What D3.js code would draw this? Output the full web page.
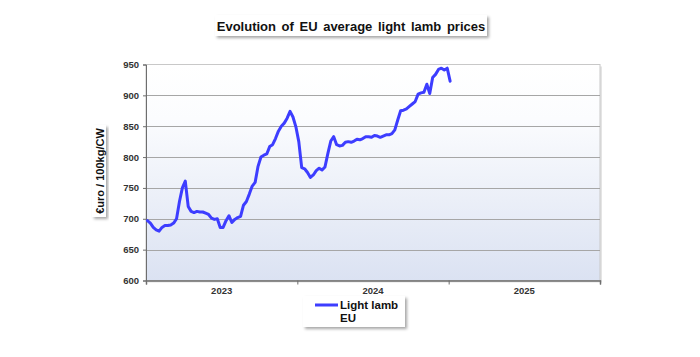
<!DOCTYPE html>
<html>
<head>
<meta charset="utf-8">
<script src="https://cdn.jsdelivr.net/npm/d3@7"></script>
<style>
  html, body { margin: 0; padding: 0; background: #ffffff; }
  svg { display: block; font-family: Arial, "Liberation Sans", sans-serif; }
</style>
</head>
<body>
<svg id="chart" width="700" height="357"></svg>
<script>
// ---- data ----
const chartTitle = "Evolution of EU average light lamb prices";
const yAxisTitle = "€uro / 100kg/CW";
const seriesName = ["Light lamb", "EU"];
const years = ["2023", "2024", "2025"];
const weeksPerYear = 52;
const yTicks = [600, 650, 700, 750, 800, 850, 900, 950];
// weekly prices starting week 1 of 2023
const lightLambEU = [
  697, 693, 686, 682, 680, 686, 689, 689, 690, 693,
  700, 728, 750, 761, 720, 712, 710, 712, 711, 711,
  709, 707, 701, 699, 700, 686, 686, 697, 705, 694,
  699, 702, 704, 722, 728, 740, 753, 759, 785, 800,
  803, 805, 817, 820, 830, 842, 850, 855, 863, 874,
  865, 849, 825, 783, 781, 775, 767, 771, 778, 782,
  779, 784, 806, 826, 833, 820, 818, 819, 824, 825,
  824, 826, 829, 828, 830, 833, 833, 832, 835, 834,
  832, 834, 836, 836, 838, 844, 860, 875, 876, 878,
  882, 886, 890, 902, 904, 905, 918, 903, 929, 934,
  942, 944, 941, 944, 923
];

// ---- layout ----
const svg = d3.select("#chart");
const m = { left: 146, right: 600, top: 64.5, bottom: 280.5 };

const x = d3.scaleLinear()
  .domain([0, years.length * weeksPerYear])
  .range([m.left, m.right]);
const y = d3.scaleLinear()
  .domain([600, 950])
  .range([m.bottom, m.top]);

const defs = svg.append("defs");
const grad = defs.append("linearGradient")
  .attr("id", "bg").attr("x1", 0).attr("y1", 0).attr("x2", 0).attr("y2", 1);
grad.append("stop").attr("offset", "0%").attr("stop-color", "#ffffff");
grad.append("stop").attr("offset", "25%").attr("stop-color", "#fbfcfe");
grad.append("stop").attr("offset", "100%").attr("stop-color", "#dbe2f2");

const shadow = defs.append("filter").attr("id", "shadow")
  .attr("x", "-10%").attr("y", "-30%").attr("width", "130%").attr("height", "180%");
shadow.append("feDropShadow").attr("dx", 2).attr("dy", 2)
  .attr("stdDeviation", 1.5).attr("flood-color", "#000").attr("flood-opacity", 0.35);

// plot frame shadow
svg.append("rect")
  .attr("x", m.left + 2).attr("y", m.top + 2)
  .attr("width", m.right - m.left).attr("height", m.bottom - m.top)
  .attr("fill", "#e4e4e4");
// plot background
svg.append("rect")
  .attr("x", m.left).attr("y", m.top)
  .attr("width", m.right - m.left).attr("height", m.bottom - m.top)
  .attr("fill", "url(#bg)")
  .attr("stroke", "#c8c8c8").attr("stroke-width", 1);

// gridlines
svg.append("g")
  .selectAll("line")
  .data(yTicks.filter(d => d > 600 && d < 950))
  .join("line")
  .attr("x1", m.left).attr("x2", m.right)
  .attr("y1", d => Math.round(y(d)) + 0.5).attr("y2", d => Math.round(y(d)) + 0.5)
  .attr("stroke", "#a6a6a6").attr("stroke-width", 1);

// y axis
const yAxis = d3.axisLeft(y).tickValues(yTicks).tickSize(3).tickPadding(4);
const gy = svg.append("g").attr("transform", `translate(${m.left},0)`).call(yAxis);
gy.select(".domain").attr("stroke", "#6e6e6e");
gy.selectAll(".tick line").attr("stroke", "#6e6e6e");
gy.selectAll("text").attr("font-size", 9.5).attr("font-weight", "bold")
  .attr("fill", "#333").attr("font-family", "Arial, 'Liberation Sans', sans-serif");

// x axis: tick marks at year boundaries, labels centered
const boundaries = d3.range(years.length + 1).map(i => i * weeksPerYear);
const gx = svg.append("g").attr("transform", `translate(0,${m.bottom})`)
  .call(d3.axisBottom(x).tickValues(boundaries).tickSize(4).tickFormat(""));
gx.select(".domain").attr("stroke", "#6e6e6e").attr("stroke-width", 1.5);
gx.selectAll(".tick line").attr("stroke", "#6e6e6e");
svg.append("g").selectAll("text")
  .data(years)
  .join("text")
  .attr("x", (d, i) => x((i + 0.5) * weeksPerYear))
  .attr("y", 294)
  .attr("text-anchor", "middle")
  .attr("font-size", 9.5).attr("font-weight", "bold").attr("fill", "#333")
  .text(d => d);

// line
const line = d3.line()
  .x((d, i) => x(i + 0.5))
  .y(d => y(d));
svg.append("path")
  .datum(lightLambEU)
  .attr("d", line)
  .attr("fill", "none")
  .attr("stroke", "#3d3dff")
  .attr("stroke-width", 3)
  .attr("stroke-linejoin", "round")
  .attr("stroke-linecap", "round");

// title box
svg.append("rect")
  .attr("x", 215).attr("y", 15).attr("width", 272).attr("height", 21)
  .attr("fill", "#fff").attr("filter", "url(#shadow)");
svg.append("text")
  .attr("x", 351).attr("y", 30.5)
  .attr("text-anchor", "middle")
  .attr("font-size", 13).attr("font-weight", "bold").attr("fill", "#111")
  .attr("word-spacing", 2)
  .text(chartTitle);

// y axis title box
svg.append("rect")
  .attr("x", 92).attr("y", 125).attr("width", 14).attr("height", 92)
  .attr("fill", "#fff").attr("filter", "url(#shadow)");
svg.append("text")
  .attr("transform", "translate(103.5,171) rotate(-90)")
  .attr("text-anchor", "middle")
  .attr("font-size", 11).attr("font-weight", "bold").attr("fill", "#111")
  .text(yAxisTitle);

// legend
svg.append("rect")
  .attr("x", 303).attr("y", 296).attr("width", 102).attr("height", 31)
  .attr("fill", "#fff").attr("filter", "url(#shadow)");
svg.append("line")
  .attr("x1", 315).attr("x2", 338).attr("y1", 305).attr("y2", 305)
  .attr("stroke", "#3d3dff").attr("stroke-width", 3);
svg.append("g").selectAll("text")
  .data(seriesName)
  .join("text")
  .attr("x", 340)
  .attr("y", (d, i) => 308.5 + i * 13)
  .attr("font-size", 11.5).attr("font-weight", "bold").attr("fill", "#111")
  .text(d => d);
</script>
</body>
</html>
